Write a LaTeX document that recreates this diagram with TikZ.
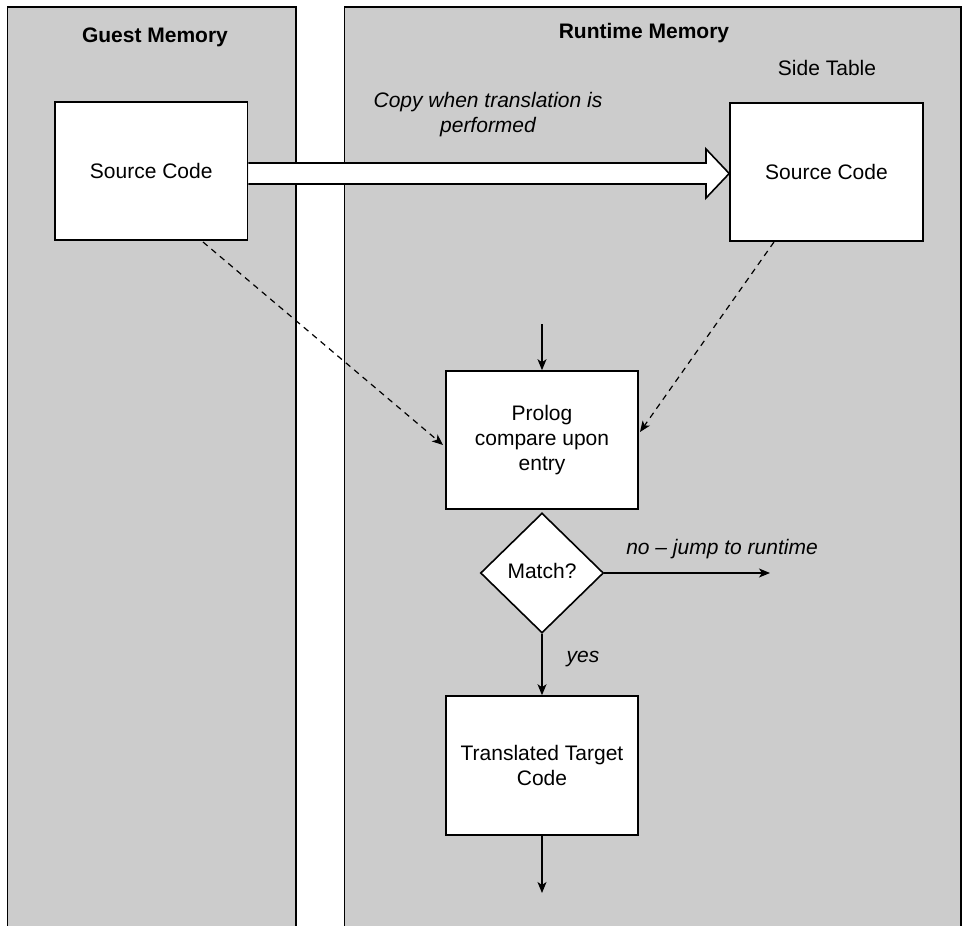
\documentclass[tikz,border=0pt]{standalone}
\usepackage{fontspec}
\setmainfont{Liberation Sans}
\usetikzlibrary{arrows.meta,shapes.geometric}
\definecolor{panelgray}{HTML}{CCCCCC}
\begin{document}
\begin{tikzpicture}[x=1pt,y=-1pt,
  every node/.style={font=\fontsize{21}{25}\selectfont},
  box/.style={draw,line width=1.6pt,fill=white,rectangle,align=center,inner sep=0pt},
  arr/.style={line width=1.2pt,-{Stealth[length=11pt,width=9pt,inset=3pt]}},
  darr/.style={line width=1.2pt,dash pattern=on 6pt off 5pt,-{Stealth[length=11pt,width=9pt,inset=3pt]}},
  lbl/.style={font=\fontsize{21}{25}\selectfont\itshape,align=center}]
\useasboundingbox (0,0) rectangle (967,926);
\fill[white] (0,0) rectangle (967,926);
% panels
\fill[panelgray] (7.5,7) rectangle (296,940);
\draw[line width=1.6pt] (7.5,940) -- (7.5,7) -- (296,7) -- (296,940);
\fill[panelgray] (344.5,7) rectangle (961,940);
\draw[line width=1.6pt] (344.5,940) -- (344.5,7) -- (961,7) -- (961,940);
\node[font=\fontsize{21}{25}\selectfont\bfseries] (gm) at (155,37) {Guest Memory};
\node[font=\fontsize{21}{25}\selectfont\bfseries] (rm) at (644,33) {Runtime Memory};
\node (st) at (827,68) {Side Table};
% boxes
\node[box,minimum width=192.5pt,minimum height=138pt] (srcL) at (151.25,171) {Source Code};
\node[box,minimum width=193pt,minimum height=138pt] (srcR) at (826.5,172) {Source Code};
\node[box,minimum width=192pt,minimum height=138pt] (pro) at (542,440) {Prolog\\compare upon\\entry};
\node[draw,line width=1.6pt,fill=white,diamond,minimum width=123pt,minimum height=120pt,inner sep=0pt] (dia) at (542,573) {};
\node (mt) at (542,571) {Match?};
\node[box,minimum width=192pt,minimum height=139pt] (tt) at (542,765.5) {Translated Target\\Code};
% big hollow arrow from srcL to srcR
\draw[line width=1.6pt,fill=white,line join=miter]
  (srcL.east |- 0,163) -- (706,163) -- (706,149) -- (srcR.west |- 0,173.5) -- (706,198) -- (706,184) -- (srcL.east |- 0,184);
\node[lbl] (cp) at (488,115) {Copy when translation is\\performed};
% connectors
\coordinate (pin) at (542,324);
\draw[arr] (pin) -- (pro.north);
\draw[darr] (203,242) -- (443,445);
\draw[darr] (774,242) -- (640,432);
\coordinate (nojump) at (770,573);
\draw[arr] (dia.east) -- (nojump);
\node[lbl] (nl) at (722,549) {no -- jump to runtime};
\draw[arr] (dia.south) -- (tt.north);
\node[lbl] (yl) at (583,659) {yes};
\coordinate (out) at (542,893);
\draw[arr] (tt.south) -- (out);
\end{tikzpicture}
\end{document}
